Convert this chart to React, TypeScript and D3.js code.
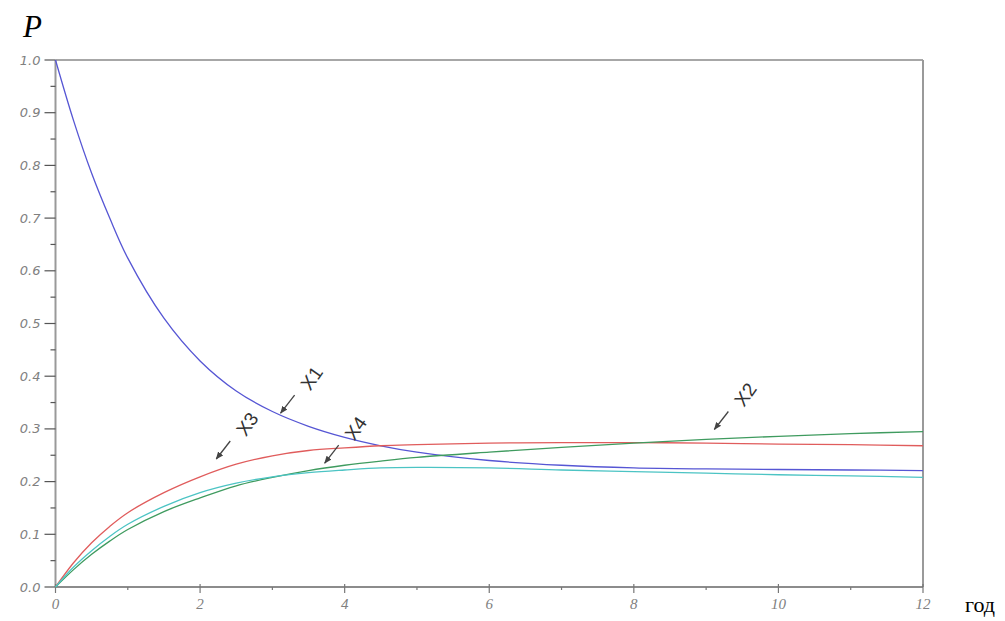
import React from "react";
import * as d3 from "d3";

// time (years)
const T = [0, 0.25, 0.5, 0.75, 1, 1.5, 2, 2.5, 3, 3.5, 4, 4.5, 5, 6, 7, 8, 9, 10, 11, 12];
// state probabilities
const X1 = [1.0, 0.885, 0.785, 0.7, 0.624, 0.51, 0.429, 0.372, 0.333, 0.305, 0.284, 0.268, 0.256, 0.24, 0.231, 0.226, 0.224, 0.223, 0.222, 0.221];
const X2 = [0, 0.033, 0.062, 0.087, 0.109, 0.143, 0.169, 0.192, 0.208, 0.221, 0.231, 0.239, 0.246, 0.256, 0.265, 0.273, 0.28, 0.286, 0.291, 0.295];
const X3 = [0, 0.046, 0.084, 0.115, 0.141, 0.179, 0.209, 0.233, 0.249, 0.259, 0.264, 0.268, 0.27, 0.273, 0.274, 0.274, 0.273, 0.271, 0.27, 0.268];
const X4 = [0, 0.038, 0.069, 0.096, 0.119, 0.153, 0.179, 0.197, 0.209, 0.217, 0.222, 0.226, 0.227, 0.226, 0.222, 0.219, 0.216, 0.213, 0.211, 0.208];

const SERIES = [
  { name: "X1", values: X1, color: "#5656d4" },
  { name: "X3", values: X3, color: "#e05c5c" },
  { name: "X2", values: X2, color: "#3f9b5f" },
  { name: "X4", values: X4, color: "#4cc4c4" },
];

// annotation arrow tips (t, P)
const NOTES = [
  { label: "X1", t: 3.1, p: 0.328 },
  { label: "X3", t: 2.21, p: 0.241 },
  { label: "X4", t: 3.71, p: 0.233 },
  { label: "X2", t: 9.1, p: 0.297 },
];

const Y_TICKS = [0, 0.1, 0.2, 0.3, 0.4, 0.5, 0.6, 0.7, 0.8, 0.9, 1.0];
const Y_MINOR = [0.05, 0.15, 0.25, 0.35, 0.45, 0.55, 0.65, 0.75, 0.85, 0.95];
const X_TICKS = [0, 2, 4, 6, 8, 10, 12];
const X_MINOR = [1, 3, 5, 7, 9, 11];

const W = 1005;
const H = 621;
const left = 55.5;
const right = 923;
const top = 60;
const bottom = 587;

export default function App() {
  const x = d3.scaleLinear().domain([0, 12]).range([left, right]);
  const y = d3.scaleLinear().domain([0, 1]).range([bottom, top]);
  const line = d3
    .line<number>()
    .x((_, i) => x(T[i]))
    .y((d) => y(d))
    .curve(d3.curveCatmullRom.alpha(0.5));

  const tickFont = "'DejaVu Sans', sans-serif";
  return (
    <svg
      width={W}
      height={H}
      viewBox={`0 0 ${W} ${H}`}
      style={{ position: "absolute", left: 0, top: 0, background: "#fff" }}
    >
      <defs>
        <marker id="ah" viewBox="0 0 10 10" refX="9" refY="5" markerWidth="6" markerHeight="6" orient="auto">
          <path d="M0,1 L10,5 L0,9 z" fill="#444" />
        </marker>
      </defs>
      {/* frame */}
      <line x1={left} x2={right} y1={top} y2={top} stroke="#8a8a8a" strokeWidth={1.5} />
      <line x1={right} x2={right} y1={top} y2={bottom} stroke="#9a9a9a" strokeWidth={2} />
      <line x1={left} x2={left} y1={top} y2={bottom} stroke="#999" strokeWidth={2} />
      <line x1={left} x2={right} y1={bottom} y2={bottom} stroke="#666" strokeWidth={1.5} />

      {/* y ticks */}
      {Y_TICKS.map((v) => (
        <g key={"y" + v}>
          <line x1={left - 11} x2={left} y1={y(v)} y2={y(v)} stroke="#555" strokeWidth={1.2} />
          <text
            x={left - 15}
            y={y(v)}
            dy="0.35em"
            textAnchor="end"
            fontFamily={tickFont}
            fontStyle="italic"
            fontSize={13}
            fill="#808080"
          >
            {v.toFixed(1)}
          </text>
        </g>
      ))}
      {Y_MINOR.map((v) => (
        <line key={"ym" + v} x1={left - 5} x2={left} y1={y(v)} y2={y(v)} stroke="#555" strokeWidth={1.2} />
      ))}
      {/* x ticks */}
      {X_TICKS.map((v) => (
        <g key={"x" + v}>
          <line x1={x(v)} x2={x(v)} y1={bottom - 3} y2={bottom + 6} stroke="#777" strokeWidth={1.2} />
          <text
            x={x(v)}
            y={bottom + 22}
            textAnchor="middle"
            fontFamily="'Liberation Serif', serif"
            fontStyle="italic"
            fontSize={15}
            fill="#808080"
          >
            {v}
          </text>
        </g>
      ))}
      {X_MINOR.map((v) => (
        <line key={"xm" + v} x1={x(v)} x2={x(v)} y1={bottom} y2={bottom + 3} stroke="#777" strokeWidth={1.2} />
      ))}

      {/* curves */}
      {SERIES.map((s) => (
        <path key={s.name} d={line(s.values) || ""} fill="none" stroke={s.color} strokeWidth={1.3} />
      ))}

      {/* annotations */}
      {NOTES.map((n) => {
        const tx = x(n.t);
        const ty = y(n.p);
        return (
          <g key={n.label}>
            <line
              x1={tx + 15}
              y1={ty - 19}
              x2={tx + 1}
              y2={ty - 1}
              stroke="#444"
              strokeWidth={1.3}
              markerEnd="url(#ah)"
            />
            <text
              x={tx + 32}
              y={ty - 36}
              dy="0.35em"
              textAnchor="middle"
              transform={`rotate(-55 ${tx + 32} ${ty - 36})`}
              fontFamily="'Liberation Sans', Arial, sans-serif"
              fontSize={19}
              fill="#333"
            >
              {n.label}
            </text>
          </g>
        );
      })}

      {/* axis titles */}
      <text x={23} y={37} fontFamily="'Liberation Serif', serif" fontStyle="italic" fontSize={31} fill="#000">
        P
      </text>
      <text x={965} y={612} fontFamily="'Liberation Serif', serif" fontSize={22} fill="#000">
        год
      </text>
    </svg>
  );
}
